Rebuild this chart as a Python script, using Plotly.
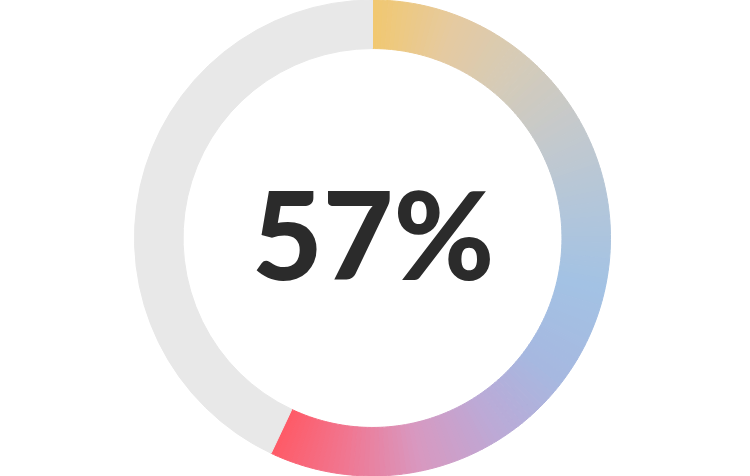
import plotly.graph_objects as go

# Gauge data
percent = 57
total = 100

# Kleurverloop over de boog (positie 0..1, kleur)
gradient_stops = [
    (0.00, '#f1c86f'),
    (0.10, '#e6caa0'),
    (0.20, '#d4cbb9'),
    (0.30, '#c4c9cd'),
    (0.40, '#b2c6da'),
    (0.50, '#a3c2e4'),
    (0.62, '#a6b8e0'),
    (0.72, '#bca9d6'),
    (0.82, '#d898c0'),
    (0.91, '#f07792'),
    (1.00, '#ff5a66'),
]
track_color = '#e8e8e8'
segments = 160


def hex_rgb(h):
    h = h.lstrip('#')
    return tuple(int(h[i:i + 2], 16) for i in (0, 2, 4))


def kleur(t):
    for (p0, c0), (p1, c1) in zip(gradient_stops, gradient_stops[1:]):
        if p0 <= t <= p1:
            f = (t - p0) / (p1 - p0)
            a, b = hex_rgb(c0), hex_rgb(c1)
            return 'rgb(%d,%d,%d)' % tuple(round(x + (y - x) * f) for x, y in zip(a, b))
    return gradient_stops[-1][1]


# De gevulde boog opgedeeld in smalle stukjes voor het kleurverloop
values = [percent / segments] * segments + [total - percent]
colors = [kleur((i + 0.5) / segments) for i in range(segments)] + [track_color]

fig = go.Figure()
fig.add_trace(
    go.Pie(
        values=values,
        hole=0.796,
        sort=False,
        direction='clockwise',
        rotation=0,
        textinfo='none',
        hoverinfo='skip',
        showlegend=False,
        marker=dict(colors=colors, line=dict(color=colors, width=1)),
    )
)
fig.add_annotation(
    text=f"{percent}%",
    x=0.5, y=0.51, xref='paper', yref='paper',
    showarrow=False,
    font=dict(family='Lato', size=122, color='#2b2b2b', weight=900),
)
fig.update_layout(
    width=750,
    height=476,
    margin=dict(l=0, r=5, t=0, b=0),
    paper_bgcolor='white',
    plot_bgcolor='white',
)
fig.write_html("out.html", config={'displayModeBar': False},
               post_script="document.body.style.margin='0';")
